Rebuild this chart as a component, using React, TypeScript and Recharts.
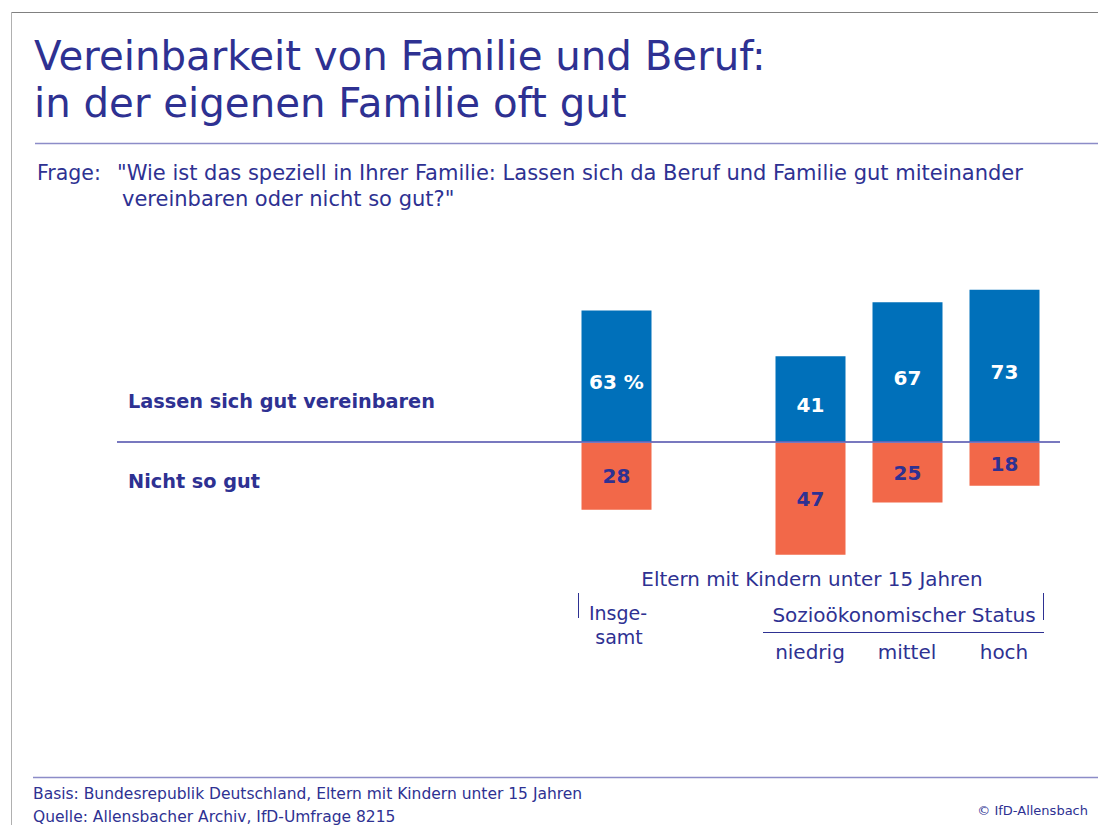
import React from "react";
import { BarChart, Bar, XAxis, YAxis, LabelList } from "recharts";

const categories = ["Insgesamt", "", "niedrig", "mittel", "hoch"];
const gutValues = [63, null, 41, 67, 73];
const nichtValues = [28, null, 47, 25, 18];
const gutLabels = ["63 %", "", "41", "67", "73"];

const data = categories.map((cat, i) => ({
  cat,
  gut: gutValues[i],
  nicht: nichtValues[i] == null ? null : -(nichtValues[i] as number),
  gutLabel: gutLabels[i],
  nichtLabel: nichtValues[i] == null ? "" : String(nichtValues[i]),
}));

const NAVY = "#2E3192";
const BLUE = "#0070BA";
const ORANGE = "#F26849";
const FONT = "'DejaVu Sans', Verdana, sans-serif";

const renderLabel = (color: string, dy: number) => (props: any) => {
  const { x, y, width, height, value } = props;
  if (!value) return null;
  return (
    <text
      x={x + width / 2}
      y={y + height / 2 + dy}
      textAnchor="middle"
      dominantBaseline="central"
      fill={color}
      fontFamily={FONT}
      fontWeight={700}
      fontSize={20}
    >
      {value}
    </text>
  );
};

const CategoryTick = (props: any) => {
  const { x, payload } = props;
  const v = payload.value;
  const style = { fill: NAVY, fontFamily: FONT, fontSize: 20 };
  if (v === "Insgesamt") {
    return (
      <g>
        <text x={x + 2} y={620} textAnchor="middle" {...style} fontSize={19}>Insge-</text>
        <text x={x + 3} y={644} textAnchor="middle" {...style} fontSize={19}>samt</text>
      </g>
    );
  }
  if (!v) return null;
  return (
    <text x={x} y={659} textAnchor="middle" {...style}>
      {v}
    </text>
  );
};

export default function App() {
  return (
    <div style={{ position: "absolute", left: 0, top: 0, width: 1098, height: 825, background: "#fff" }}>
      <BarChart
        width={1098}
        height={825}
        data={data}
        margin={{ top: 270, right: 45.5, left: 567.5, bottom: 225 }}
        barSize={70}
        barGap={-70}
        barCategoryGap={0}
      >
        <XAxis dataKey="cat" axisLine={false} tickLine={false} height={30} tick={<CategoryTick />} interval={0} />
        <YAxis yAxisId="pos" hide domain={[-61.78, 82.45]} />
        <YAxis yAxisId="neg" hide domain={[-53.36, 72.69]} />
        <Bar yAxisId="pos" dataKey="gut" fill={BLUE} isAnimationActive={false}>
          <LabelList dataKey="gutLabel" content={renderLabel("#ffffff", 6)} />
        </Bar>
        <Bar yAxisId="neg" dataKey="nicht" fill={ORANGE} isAnimationActive={false}>
          <LabelList dataKey="nichtLabel" content={renderLabel(NAVY, 0)} />
        </Bar>
      </BarChart>

      <svg
        width={1098}
        height={825}
        style={{ position: "absolute", left: 0, top: 0, pointerEvents: "none" }}
      >
        {/* frame */}
        <line x1={11.5} y1={12.5} x2={1098} y2={12.5} stroke="#808080" strokeWidth={1} />
        <line x1={11.5} y1={12} x2={11.5} y2={825} stroke="#b0b0b0" strokeWidth={1} />
        <line x1={35} y1={143.5} x2={1098} y2={143.5} stroke="#8C8CC8" strokeWidth={1.5} />
        <line x1={33} y1={777.5} x2={1098} y2={777.5} stroke="#8C8CC8" strokeWidth={1.5} />

        {/* title */}
        <text x={34} y={70} fill={NAVY} fontFamily={FONT} fontSize={40.3}>
          Vereinbarkeit von Familie und Beruf:
        </text>
        <text x={34} y={117} fill={NAVY} fontFamily={FONT} fontSize={40.3}>
          in der eigenen Familie oft gut
        </text>

        {/* question */}
        <text x={37} y={180} fill={NAVY} fontFamily={FONT} fontSize={20.5}>
          Frage:
        </text>
        <text x={117} y={180} fill={NAVY} fontFamily={FONT} fontSize={21}>
          "Wie ist das speziell in Ihrer Familie: Lassen sich da Beruf und Familie gut miteinander
        </text>
        <text x={122} y={206} fill={NAVY} fontFamily={FONT} fontSize={21}>
          vereinbaren oder nicht so gut?"
        </text>

        {/* row labels */}
        <text x={128} y={408} fill={NAVY} fontFamily={FONT} fontSize={19.3} fontWeight={700}>
          Lassen sich gut vereinbaren
        </text>
        <text x={128} y={488} fill={NAVY} fontFamily={FONT} fontSize={19.3} fontWeight={700}>
          Nicht so gut
        </text>

        {/* baseline */}
        <line x1={117} y1={442} x2={1060} y2={442} stroke="#4B4BAA" strokeWidth={1.5} />

        {/* group labels */}
        <text x={812} y={586} textAnchor="middle" fill={NAVY} fontFamily={FONT} fontSize={19.9}>
          Eltern mit Kindern unter 15 Jahren
        </text>
        <line x1={578.5} y1={593} x2={578.5} y2={618} stroke={NAVY} strokeWidth={1} />
        <line x1={1043.5} y1={593} x2={1043.5} y2={620} stroke={NAVY} strokeWidth={1} />
        <text x={904} y={622} textAnchor="middle" fill={NAVY} fontFamily={FONT} fontSize={20}>
          Sozioökonomischer Status
        </text>
        <line x1={763} y1={632.5} x2={1044} y2={632.5} stroke={NAVY} strokeWidth={1} />

        {/* footer */}
        <text x={33} y={799} fill={NAVY} fontFamily={FONT} fontSize={15.5}>
          Basis: Bundesrepublik Deutschland, Eltern mit Kindern unter 15 Jahren
        </text>
        <text x={33} y={822} fill={NAVY} fontFamily={FONT} fontSize={15.5}>
          Quelle: Allensbacher Archiv, IfD-Umfrage 8215
        </text>
        <text x={1088} y={815} textAnchor="end" fill={NAVY} fontFamily={FONT} fontSize={13}>
          © IfD-Allensbach
        </text>
      </svg>
    </div>
  );
}
